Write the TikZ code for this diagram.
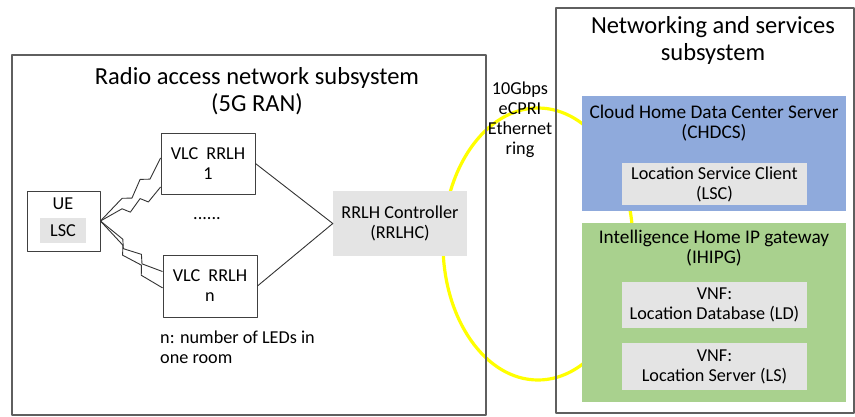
\documentclass[tikz,border=0pt]{standalone}
\usepackage{fontspec}
\setmainfont{Carlito}
\usetikzlibrary{calc}

\definecolor{chdcsblue}{RGB}{143,170,220}
\definecolor{ihipggreen}{RGB}{169,209,142}
\definecolor{boxgray}{RGB}{228,228,228}
\definecolor{ringyellow}{RGB}{255,255,0}
\definecolor{edgegray}{RGB}{95,95,95}

\tikzset{
  frame/.style={draw=edgegray, line width=1.2pt},
  unit/.style={draw=black!75, line width=0.9pt},
  grey/.style={fill=boxgray},
  link/.style={draw=black!80, line width=0.9pt},
  bigtitle/.style={font=\fontsize{24.5}{27}\selectfont},
  headtitle/.style={font=\fontsize{19.3}{20}\selectfont},
}

% lightning link from #1 to #2
\newcommand\zap[2]{%
  \draw[link] (#1) -- ($(#1)!0.36!(#2)$) -- ($(#1)!0.44!(#2)!7pt!-90:(#2)$)
    -- ($(#1)!0.66!(#2)$) -- ($(#1)!0.74!(#2)!7pt!-90:(#2)$) -- (#2);}

\begin{document}
\begin{tikzpicture}[x=1pt, y=-1pt, font=\fontsize{18.2}{20}\selectfont, line join=round, inner sep=0pt, align=center]
\useasboundingbox (0,0) rectangle (855,416);
% ethernet ring
\draw[ringyellow, line width=3.2pt] (538,244) ellipse [x radius=95pt, y radius=136pt];
% subsystems
\node[frame, minimum width=474pt, minimum height=360pt] (ran) at (249,235) {};
\node[frame, minimum width=298pt, minimum height=405pt] (ns) at (705,210.5) {};
\node[bigtitle] (rantitle) at (257,91) {Radio access network subsystem\\(5G RAN)};
\node[bigtitle] (nstitle) at (713,40) {Networking and services\\subsystem};
% RAN side
\node[unit, minimum width=73pt, minimum height=60pt] (ue) at (63.5,221) {};
\node (uelabel) at (63,204) {UE};
\node[grey, minimum width=46pt, minimum height=25pt] (uelsc) at (63,230.5) {LSC};
\node[unit, minimum width=94pt, minimum height=61pt] (vlc1) at (208,163.5) {VLC~~RRLH\\1};
\node[unit, minimum width=94pt, minimum height=62pt] (vlcn) at (210,286) {VLC~~RRLH\\n};
\node (dots) at (207,219) {......};
\node[grey, minimum width=134pt, minimum height=65pt] (rrlhc) at (400,223.5) {RRLH Controller\\(RRLHC)};
\node[anchor=north west, align=left] (note) at (160,331) {n: number of LEDs in\\one room};
% radio links
\coordinate (v1a) at ($(vlc1.north west)!0.41!(vlc1.south west)$);
\coordinate (v1b) at ($(vlc1.north west)!0.88!(vlc1.south west)$);
\coordinate (vna) at ($(vlcn.north west)!0.27!(vlcn.south west)$);
\coordinate (vnb) at ($(vlcn.north west)!0.53!(vlcn.south west)$);
\zap{ue.east}{v1a}
\zap{ue.east}{v1b}
\zap{ue.east}{vna}
\zap{ue.east}{vnb}
\draw[link] (vlc1.east) -- (rrlhc.west) -- (vlcn.east);
\node (ringlabel) at (520,120) {10Gbps\\eCPRI\\Ethernet\\ring};
% networking side
\node[fill=chdcsblue, minimum width=264pt, minimum height=115pt] (chdcs) at (714,153.5) {};
\node[headtitle] (chdcstitle) at (714,123) {Cloud Home Data Center Server\\(CHDCS)};
\node[grey, minimum width=185pt, minimum height=42pt] (lsc) at (714.5,184) {Location Service Client\\(LSC)};
\node[fill=ihipggreen, minimum width=264pt, minimum height=179pt] (ihipg) at (714,312.5) {};
\node[headtitle] (ihipgtitle) at (714,248) {Intelligence Home IP gateway\\(IHIPG)};
\node[grey, minimum width=185pt, minimum height=46pt] (ld) at (714.5,305) {VNF:\\Location Database (LD)};
\node[grey, minimum width=185pt, minimum height=47pt] (ls) at (714.5,366.5) {VNF:\\Location Server (LS)};
\end{tikzpicture}
\end{document}
